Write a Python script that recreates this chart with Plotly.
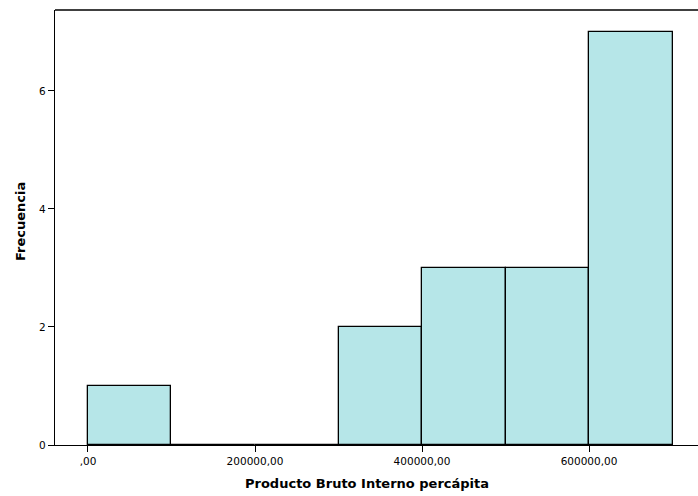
import plotly.graph_objects as go

bin_starts = [0, 100000, 200000, 300000, 400000, 500000, 600000]
frequencies = [1, 0, 0, 2, 3, 3, 7]
bin_width = 100000
x_tick_vals = [0, 200000, 400000, 600000]
x_tick_text = [",00", "200000,00", "400000,00", "600000,00"]
y_tick_vals = [0, 2, 4, 6]
y_tick_text = ["0", "2", "4", "6"]
x_title = "Producto Bruto Interno percápita"
y_title = "Frecuencia"

centers = [s + bin_width / 2 for s in bin_starts]

fig = go.Figure()
fig.add_trace(go.Bar(
    x=centers, y=frequencies, width=[bin_width] * len(centers),
    marker=dict(color="#b6e6e8", line=dict(color="black", width=1.3)),
    hoverinfo="skip",
))

fig.update_layout(
    width=698, height=496,
    margin=dict(l=55, r=0, t=10, b=51),
    paper_bgcolor="white", plot_bgcolor="white",
    showlegend=False,
    font=dict(family="DejaVu Sans, Verdana, sans-serif", size=10, color="black"),
    bargap=0,
    xaxis=dict(
        range=[-39500, 730500],
        tickmode="array", tickvals=x_tick_vals, ticktext=x_tick_text,
        ticks="outside", ticklen=6, tickwidth=1, tickcolor="black",
        tickfont=dict(size=10.5),
        showline=True, linecolor="black", linewidth=1.3,
        showgrid=False, zeroline=False,
    ),
    yaxis=dict(
        range=[0, 7.37],
        tickmode="array", tickvals=y_tick_vals, ticktext=y_tick_text,
        ticks="outside", ticklen=6, tickwidth=1, tickcolor="black",
        tickfont=dict(size=10.5),
        showline=True, linecolor="black", linewidth=1.3,
        showgrid=False, zeroline=False,
    ),
    shapes=[dict(type="line", xref="paper", yref="paper", x0=0, x1=1, y0=1, y1=1,
                 line=dict(color="black", width=1.5))],
    annotations=[
        dict(text="<b>%s</b>" % x_title, xref="paper", yref="paper",
             x=0.485, y=-0.0874, xanchor="center", yanchor="middle",
             showarrow=False, font=dict(size=13)),
        dict(text="<b>%s</b>" % y_title, xref="paper", yref="paper",
             x=-0.0544, y=0.5126, xanchor="center", yanchor="middle",
             textangle=-90, showarrow=False, font=dict(size=13)),
    ],
)

fig.write_html("out.html", config={"displayModeBar": False},
               post_script="document.body.style.margin='0';document.body.style.padding='0';")
